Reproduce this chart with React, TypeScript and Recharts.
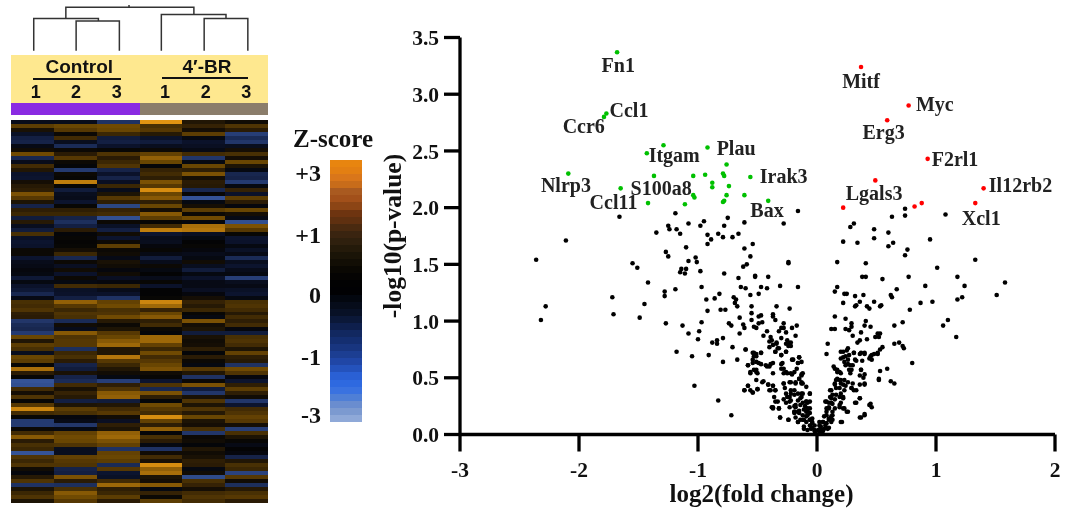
import React from "react";
import { BarChart, Bar, Cell, ScatterChart, Scatter, XAxis, YAxis, Label } from "recharts";

const SERIF = "'Liberation Serif', serif";
const SANS = "'Liberation Sans', sans-serif";

// ---------- heatmap ----------
const sampleNames = ["Control 1", "Control 2", "Control 3", "4'-BR 1", "4'-BR 2", "4'-BR 3"];
const control1 = [
  -0.5,1.7,0.5,-0.8,-1.3,-1.4,-0.4,0.3,2.0,-1.5,-0.5,1.3,0.7,-0.9,-1.0,0.4,0.8,1.0,2.1,1.6,0.6,-1.4,1.0,1.2,
  -1.2,0.8,-0.6,-1.2,1.4,-0.8,-1.0,-0.9,0.2,0.2,-1.0,-0.5,-0.4,-0.2,-0.3,-1.1,-0.3,-0.9,-1.1,-1.5,-0.4,1.4,1.3,1.5,
  1.0,0.9,-1.9,-1.6,-1.5,-2.0,1.9,0.7,1.7,1.4,-0.6,1.9,1.7,0.1,2.5,0.9,0.1,-2.6,-2.5,1.3,0.4,1.5,0.1,1.6,
  2.8,1.3,0.1,-2.0,-2.0,0.2,1.3,2.2,0.9,1.4,1.2,-2.6,1.5,1.2,1.5,0.3,-0.2,0.8,1.5,-1.8,0.6,1.2,1.5,0.6,
];
const control2 = [
  -0.5,1.9,1.6,0.2,1.3,-0.6,-1.6,0.2,0.9,1.6,0.2,-0.1,-2.0,0.2,0.1,2.7,0.1,-1.2,-0.6,-0.5,-1.0,0.1,1.0,1.2,
  -1.4,-1.7,-1.3,0.9,-0.1,0.1,0.05,0.1,0.4,1.2,-1.5,0.2,-0.7,0.3,-0.9,0.2,-0.3,1.3,-0.8,-0.9,-1.3,2.3,1.6,1.2,
  1.5,1.4,-1.6,0.3,-0.5,2.2,1.5,1.6,1.6,-1.7,1.2,1.4,0.9,-1.4,-1.2,0.5,-1.4,-1.6,1.3,0.5,1.1,0.8,-1.3,0.6,
  1.7,1.4,-0.2,-0.4,-1.9,-0.3,1.8,2.0,1.9,1.5,-0.6,-0.6,1.8,1.6,1.5,-1.4,-1.3,2.1,0.9,-1.7,1.4,2.2,2.0,1.6,
];
const control3 = [
  -1.8,2.0,1.9,1.2,-1.2,-1.3,-0.9,0.1,1.5,0.9,1.2,1.5,-1.4,-0.9,-1.4,-0.7,1.2,-0.5,0.6,1.6,1.0,-2.3,1.1,1.3,
  -2.5,0.2,-0.8,-1.3,0.3,-1.0,0.2,1.7,0.2,0.3,-0.4,0.5,0.3,-0.2,0.3,-0.7,-0.2,1.2,-0.5,-0.9,-1.8,1.8,2.0,1.4,
  1.5,2.0,0.8,0.2,0.6,1.6,1.9,2.2,2.4,0.7,0.7,2.6,1.6,1.2,0.7,0.3,-0.3,-2.1,1.0,1.5,2.2,2.3,-1.2,0.7,
  1.3,1.6,0.3,-0.7,1.0,0.6,2.3,2.4,2.1,1.8,-1.8,1.8,1.9,1.7,-1.6,1.6,-1.0,-0.8,1.3,2.4,1.0,1.2,1.7,0.9,
];
const treated1 = [
  3.0,1.4,1.6,0.8,-0.9,-1.2,-0.6,0.2,1.8,2.3,1.9,-0.1,1.1,1.3,1.0,2.1,1.6,2.9,1.9,2.2,1.0,1.9,0.4,2.2,
  1.7,0.1,1.3,2.7,-1.0,-0.5,-0.6,-0.2,0.1,-0.4,-1.2,-0.5,0.2,-0.3,0.0,-0.5,0.1,-0.9,0.0,0.0,0.1,2.8,2.4,1.1,
  1.9,2.2,1.0,1.3,0.2,-0.1,2.4,2.4,1.8,1.2,2.0,1.3,1.6,1.9,2.1,0.3,0.1,-1.0,1.5,-1.5,2.1,1.0,-0.1,2.0,
  1.6,1.3,2.9,1.8,1.0,2.3,-0.1,1.4,0.9,-0.3,-1.8,0.3,1.3,0.5,2.9,2.3,2.5,0.6,0.4,2.2,-0.3,1.1,0.2,1.7,
];
const treated2 = [
  0.7,1.1,0.4,1.7,-0.3,-0.9,-0.7,-0.4,1.3,-1.9,-0.3,1.9,1.0,2.1,0.4,0.9,0.8,-1.5,0.1,-2.6,-0.3,0.4,1.7,0.2,
  2.0,-0.2,2.5,2.6,-0.7,-0.3,0.0,0.1,-0.2,-0.5,-0.3,0.3,-0.6,-1.2,-0.3,-0.9,-0.4,-0.4,-0.7,-0.2,0.4,1.1,0.8,1.2,
  0.1,-0.3,2.1,0.4,0.6,-1.2,0.5,0.3,0.4,1.0,-0.1,0.9,0.2,-0.3,1.6,0.7,-1.8,0.2,2.1,-1.2,-1.9,0.5,1.5,0.6,
  1.5,0.8,1.9,0.6,0.4,1.4,-1.9,0.2,0.3,-0.1,0.7,0.3,0.5,1.0,0.9,-0.3,0.3,-2.4,1.4,1.1,0.4,1.3,1.5,1.3,
];
const treated3 = [
  0.3,1.5,0.9,-2.1,-1.6,-1.9,-0.6,0.4,1.4,0.4,1.9,0.6,-0.3,-1.5,-1.4,-2.0,-0.3,1.1,-0.9,1.7,0.9,-0.2,1.9,0.4,
  -0.4,-2.5,2.1,1.6,0.1,-1.0,-0.9,-0.3,-0.8,-0.4,-1.6,-0.6,-1.0,-0.5,-0.3,-2.1,-0.6,-0.4,-0.8,-1.0,-0.3,1.4,1.5,1.3,
  0.8,1.3,1.0,1.3,-0.2,-1.2,1.4,1.5,1.3,0.6,1.8,1.0,0.8,-1.8,2.0,1.5,-0.2,-1.0,1.0,1.7,1.0,0.3,-1.9,-1.0,
  1.3,1.5,1.8,1.6,0.4,-2.1,1.4,0.6,0.1,-0.4,0.0,-0.2,-1.4,0.7,1.4,1.2,-2.2,1.6,0.3,-1.7,0.8,1.4,1.6,0.9,
];
const heatColumns = [control1, control2, control3, treated1, treated2, treated3];

const heatStops: [number, number[]][] = [
  [-3, [64, 100, 175]], [-2, [36, 58, 112]], [-1, [12, 20, 46]], [0, [4, 4, 5]],
  [1, [46, 30, 5]], [2, [112, 74, 2]], [3, [225, 148, 18]],
];
const heatColor = (z: number) => {
  for (let i = 0; i < heatStops.length - 1; i++) {
    const [a, ca] = heatStops[i];
    const [b, cb] = heatStops[i + 1];
    if (z <= b) {
      const t = Math.max(0, (z - a) / (b - a));
      return `rgb(${ca.map((c, k) => Math.round(c + (cb[k] - c) * t)).join(",")})`;
    }
  }
  return "rgb(225,148,18)";
};
const rowCount = control1.length;
const rowKeys = control1.map((_, i) => `r${i}`);
const heatData = sampleNames.map((name) => {
  const row: Record<string, number | string> = { name };
  rowKeys.forEach((k) => (row[k] = 1));
  return row;
});

// ---------- sample groups ----------
const groupColors = ["#8A2BE2", "#8A2BE2", "#8A2BE2", "#8B7D6B", "#8B7D6B", "#8B7D6B"];
const groupData = sampleNames.map((name) => ({ name, v: 1 }));
const groupLabels = [
  { text: "Control", center: 79.3, lineFrom: 33.3, lineWidth: 87.4, lineTop: 78 },
  { text: "4\u2032-BR", center: 207, lineFrom: 161.7, lineWidth: 86.6, lineTop: 76.7 },
];
const replicateLabels = [
  { text: "1", x: 35.7 }, { text: "2", x: 76 }, { text: "3", x: 116.7 },
  { text: "1", x: 165 }, { text: "2", x: 205.7 }, { text: "3", x: 246.3 },
];

// ---------- dendrogram (x in sample columns, y in merge height) ----------
const mergeA = [{ x: 1.52, y: 0 }, { x: 1.52, y: 0.68 }, { x: 2.53, y: 0.68 }, { x: 2.53, y: 0 }];
const mergeB = [{ x: 0.53, y: 0 }, { x: 0.53, y: 0.74 }, { x: 2.04, y: 0.74 }, { x: 2.04, y: 0.68 }];
const mergeC = [{ x: 4.51, y: 0 }, { x: 4.51, y: 0.74 }, { x: 5.53, y: 0.74 }, { x: 5.53, y: 0 }];
const mergeD = [{ x: 3.51, y: 0 }, { x: 3.51, y: 0.83 }, { x: 5.02, y: 0.83 }, { x: 5.02, y: 0.74 }];
const mergeRoot = [{ x: 1.28, y: 0.74 }, { x: 1.28, y: 1 }, { x: 4.27, y: 1 }, { x: 4.27, y: 0.83 }];
const rootStem = [{ x: 2.755, y: 1 }, { x: 2.755, y: 1.05 }];
const dendroMerges = [mergeA, mergeB, mergeC, mergeD, mergeRoot, rootStem];

// ---------- colour scale ----------
const colorbarColors = [
  "#E8850F","#E37F12","#D9761A","#C86C1A","#A95A20","#A2501A","#8C4515","#6E3410","#5F3010","#4A2A10",
  "#3A2410","#2F200E","#241A0A","#1A1407","#120E05","#0A0803","#050403","#020202","#010103","#03070F",
  "#060C1A","#081126","#0B1838","#0E1F4C","#122860","#142E70","#18357F","#1C3E92","#2046A6","#2452BC",
  "#2A60D4","#2E69E0","#3A72E0","#4F7FD6","#6A8DCF","#7C9AD0","#8FA9D8",
];
const colorbarKeys = colorbarColors.map((_, i) => `c${i}`);
const colorbarRow: Record<string, number | string> = { name: "z" };
colorbarKeys.forEach((k) => (colorbarRow[k] = 1));
const colorbarData = [colorbarRow];
const colorbarLabels = [
  { text: "+3", y: 173 }, { text: "+1", y: 235 }, { text: "0", y: 295 }, { text: "-1", y: 357 }, { text: "-3", y: 415 },
];

// ---------- volcano ----------
const xTicks = [-3, -2, -1, 0, 1, 2];
const yTicks = [0, 0.5, 1, 1.5, 2, 2.5, 3, 3.5];

const downRegulated: [number, number][] = [
  [-1.68,3.37],[-1.77,2.83],[-1.79,2.8],[-1.29,2.55],[-1.43,2.48],[-0.92,2.53],[-0.76,2.38],[-2.09,2.3],[-1.37,2.28],
  [-1.04,2.28],[-0.94,2.29],[-0.79,2.3],[-0.78,2.28],[-0.56,2.27],[-0.88,2.22],[-0.88,2.18],[-0.74,2.19],[-1.65,2.17],
  [-1.04,2.11],[-1.03,2.09],[-0.76,2.11],[-0.61,2.11],[-1.42,2.04],[-1.11,2.03],[-0.79,2.05],[-0.78,2.06],[-0.41,2.06],
];
const upRegulated: [number, number][] = [
  [0.37,3.24],[0.77,2.9],[0.59,2.77],[0.93,2.43],[0.49,2.24],[1.4,2.17],[1.33,2.04],[0.88,2.04],[0.82,2.01],[0.22,2.0],
];
const unchangedLeft: [number, number][] = [
  [-2.11,1.71],[-2.36,1.54],[-2.28,1.13],[-2.32,1.01],[-1.55,1.51],[-1.51,1.47],[-1.42,1.34],[-1.72,1.21],[-1.71,1.06],
  [-1.45,1.15],[-1.49,1.03],[-1.28,1.26],[-1.28,1.22],[-1.19,1.28],[-1.27,0.98],[-1.35,1.78],[-1.25,1.84],[-1.24,1.81],
  [-1.18,1.81],[-1.15,1.77],[-1.08,1.86],[-0.98,1.84],[-0.95,1.88],[-0.78,1.84],[-0.61,1.87],[-0.28,1.86],[-0.92,1.76],
  [-0.89,1.72],[-0.92,1.68],[-0.83,1.77],[-0.79,1.74],[-0.71,1.74],[-0.66,1.77],[-1.27,1.61],[-1.25,1.57],[-1.1,1.65],
  [-1.08,1.53],[-1.02,1.56],[-1.01,1.52],[-1.14,1.46],[-1.1,1.46],[-1.15,1.43],[-1.11,1.42],[-0.98,1.44],[-0.61,1.64],
  [-0.54,1.68],[-0.56,1.57],[-0.62,1.48],[-0.59,1.5],[-0.24,1.52],[-0.24,1.51],[-0.78,1.42],[-0.66,1.38],[-0.52,1.4],
  [-0.52,1.39],[-0.41,1.39],[-0.97,1.3],[-0.64,1.3],[-0.6,1.29],[-0.47,1.3],[-0.42,1.29],[-0.31,1.31],[-0.16,1.3],
  [-0.82,1.24],[-0.86,1.2],[-0.93,1.19],[-0.56,1.23],[-0.49,1.24],[-0.7,1.21],[-0.68,1.19],[-0.69,1.16],[-0.67,1.13],
  [-0.92,1.09],[-0.81,1.1],[-0.77,1.1],[-0.55,1.13],[-0.55,1.07],[-0.55,1.01],[-0.34,1.13],[-0.23,1.11],[-0.65,1.03],
  [-0.49,1.04],[-0.47,1.05],[-0.49,0.98],[-0.46,0.99],[-0.37,1.06],[-0.37,1.04],[-0.35,1.01],[-0.74,0.98],[-0.72,0.96],
  [-0.62,0.97],[-0.61,0.94],[-0.65,0.89],[-0.53,0.95],[-0.51,0.94],[-0.97,0.99],[-0.99,0.91],[-1.0,0.84],[-1.13,0.96],
  [-1.08,0.89],[-0.88,0.81],[-0.84,0.83],[-0.84,0.8],[-0.79,0.85],[-1.18,0.73],[-1.05,0.69],[-0.91,0.7],[-0.79,0.64],
  [-0.67,0.66],[-0.71,0.77],[-0.6,0.75],[-1.03,0.43],[-0.83,0.3],[-0.72,0.17],[-1.66,1.92],[-1.19,1.95],[-0.16,1.97],[-0.75,1.91],
];
const unchangedLeftDense: [number, number][] = [
  [-0.42,0.91],[-0.45,0.87],[-0.39,0.86],[-0.38,0.83],[-0.3,0.94],[-0.32,0.91],[-0.28,0.94],[-0.28,0.98],[-0.26,0.9],
  [-0.21,0.94],[-0.17,0.96],[-0.18,0.87],[-0.3,0.85],[-0.25,0.83],[-0.22,0.81],[-0.26,0.8],[-0.24,0.78],[-0.34,0.8],
  [-0.32,0.76],[-0.35,0.73],[-0.37,0.79],[-0.4,0.77],[-0.3,0.7],[-0.26,0.73],[-0.21,0.66],[-0.15,0.68],[-0.13,0.64],
  [-0.16,0.63],[-0.17,0.58],[-0.13,0.53],[-0.15,0.49],[-0.13,0.45],[-0.18,0.45],[-0.21,0.53],[-0.25,0.54],[-0.28,0.54],
  [-0.29,0.63],[-0.3,0.58],[-0.37,0.63],[-0.4,0.6],[-0.42,0.6],[-0.47,0.62],[-0.54,0.72],[-0.51,0.71],[-0.47,0.72],
  [-0.53,0.69],[-0.51,0.64],[-0.54,0.63],[-0.58,0.61],[-0.53,0.57],[-0.56,0.54],[-0.5,0.54],[-0.51,0.48],[-0.45,0.47],
  [-0.58,0.43],[-0.61,0.39],[-0.54,0.37],[-0.5,0.4],[-0.41,0.44],[-0.37,0.43],[-0.4,0.39],[-0.35,0.39],[-0.36,0.33],
  [-0.33,0.29],[-0.38,0.24],[-0.37,0.23],[-0.32,0.23],[-0.31,0.15],[-0.24,0.13],[-0.28,0.45],[-0.27,0.41],[-0.22,0.46],
  [-0.19,0.39],[-0.22,0.36],[-0.25,0.33],[-0.28,0.31],[-0.23,0.29],[-0.16,0.36],[-0.13,0.36],[-0.06,0.36],[-0.16,0.3],
  [-0.12,0.28],[-0.23,0.24],[-0.18,0.26],[-0.08,0.28],[-0.1,0.25],[-0.06,0.23],[-0.19,0.2],[-0.15,0.19],[-0.09,0.2],
  [-0.06,0.19],[-0.16,0.11],[-0.11,0.13],[-0.06,0.13],[-0.04,0.11],[-0.11,0.05],[-0.05,0.05],[-0.02,0.03],[-0.01,0.01],
  [-0.13,0.52],[-0.12,0.45],[-0.09,0.42],[-0.09,0.29],[-0.08,0.21],[-0.09,0.16],[-0.05,0.13],[-0.02,0.08],[-0.18,0.24],
  [-0.13,0.33],[-0.15,0.21],[-0.19,0.19],[-0.12,0.13],
];
const unchangedLeftFill: [number, number][] = [
  [-0.6,0.75],[-0.53,0.72],[-0.51,0.69],[-0.54,0.66],[-0.47,0.72],[-0.58,0.61],[-0.49,0.63],[-0.43,0.61],[-0.39,0.62],
  [-0.4,0.82],[-0.34,0.81],[-0.33,0.76],[-0.35,0.73],[-0.3,0.7],[-0.26,0.73],[-0.23,0.8],[-0.22,0.78],[-0.2,0.66],
  [-0.15,0.68],[-0.16,0.63],[-0.3,0.62],[-0.28,0.58],[-0.51,0.55],[-0.56,0.55],[-0.51,0.57],[-0.37,0.54],[-0.26,0.55],
  [-0.22,0.54],[-0.19,0.55],[-0.12,0.54],[-0.15,0.49],[-0.18,0.46],[-0.13,0.46],[-0.58,0.43],[-0.61,0.39],[-0.56,0.39],
  [-0.54,0.37],[-0.5,0.4],[-0.46,0.46],[-0.41,0.44],[-0.37,0.43],[-0.35,0.39],[-0.39,0.39],[-0.28,0.45],[-0.23,0.46],
  [-0.22,0.39],[-0.26,0.36],[-0.23,0.33],[-0.19,0.35],[-0.12,0.36],[-0.06,0.36],[-0.14,0.32],[-0.09,0.29],[-0.06,0.29],
  [-0.14,0.26],[-0.11,0.22],[-0.08,0.23],[-0.04,0.14],[-0.14,0.13],[-0.09,0.11],[-0.16,0.11],[-0.19,0.2],[-0.16,0.2],
  [-0.18,0.15],[-0.31,0.15],[-0.24,0.13],[-0.37,0.24],[-0.32,0.23],[-0.35,0.29],[-0.26,0.28],[-0.19,0.25],[-0.22,0.3],
  [-0.11,0.07],[-0.06,0.08],[-0.04,0.06],[-0.02,0.04],[-0.08,0.04],[-0.06,0.13],[-0.04,0.1],[-0.12,0.17],[-0.08,0.17],
];
const unchangedRight: [number, number][] = [
  [0.74,1.99],[0.74,1.93],[0.63,1.92],[1.08,1.94],[0.31,1.86],[0.28,1.83],[0.48,1.81],[0.6,1.78],[0.48,1.73],[0.95,1.72],
  [0.22,1.7],[0.34,1.69],[0.64,1.69],[0.6,1.66],[0.76,1.63],[0.74,1.58],[1.33,1.54],[0.17,1.52],[0.41,1.51],[1.01,1.47],
  [0.77,1.39],[0.38,1.39],[0.41,1.39],[0.55,1.37],[1.18,1.39],[1.58,1.34],[1.24,1.31],[0.91,1.31],[0.17,1.3],[0.15,1.26],
  [0.67,1.28],[0.23,1.24],[0.25,1.24],[0.32,1.22],[0.39,1.23],[0.62,1.23],[0.63,1.21],[1.51,1.23],[1.22,1.21],[1.18,1.19],
  [0.22,1.16],[0.33,1.14],[0.36,1.17],[0.32,1.13],[0.48,1.17],[0.54,1.14],[0.53,1.13],[0.42,1.13],[0.44,1.11],[0.87,1.16],
  [0.97,1.17],[0.78,1.1],[0.15,1.04],[0.24,1.02],[1.1,1.01],[0.72,0.99],[0.65,0.96],[1.06,0.96],[1.17,0.86],[0.41,1.0],
  [0.4,0.96],[0.45,0.95],[0.29,0.98],[0.29,0.95],[0.12,0.93],[0.15,0.93],[0.24,0.93],[0.27,0.92],[0.37,0.9],[0.3,0.87],
  [0.36,0.83],[0.42,0.84],[0.51,0.89],[0.53,0.89],[0.49,0.86],[0.52,0.86],[0.34,0.81],[0.09,0.8],[0.65,0.8],[0.69,0.81],
  [0.72,0.78],[0.73,0.76],[0.55,0.77],[0.53,0.75],[0.08,0.71],[0.2,0.73],[0.26,0.76],[0.25,0.74],[0.31,0.72],[0.36,0.71],
  [0.4,0.71],[0.51,0.71],[0.48,0.71],[0.46,0.7],[0.44,0.67],[0.46,0.66],[0.8,0.63],[0.22,0.68],[0.23,0.64],[0.26,0.66],
  [0.32,0.66],[0.38,0.65],[0.14,0.6],[0.19,0.55],[0.17,0.57],[0.24,0.61],[0.28,0.61],[0.29,0.57],[0.28,0.54],[0.37,0.57],
  [0.36,0.52],[0.39,0.5],[0.4,0.44],[0.53,0.56],[0.59,0.58],[0.52,0.48],[0.62,0.47],[0.65,0.45],[0.17,0.49],[0.15,0.45],
  [0.2,0.48],[0.22,0.44],[0.16,0.41],[0.19,0.41],[0.24,0.43],[0.3,0.45],[0.29,0.41],[0.31,0.39],[0.11,0.39],[0.13,0.35],
  [0.1,0.28],[0.07,0.29],[0.12,0.32],[0.13,0.27],[0.1,0.24],[0.08,0.23],[0.22,0.33],[0.2,0.28],[0.22,0.23],[0.26,0.2],
  [0.19,0.24],[0.36,0.32],[0.32,0.28],[0.45,0.27],[0.46,0.24],[0.4,0.17],[0.37,0.15],[0.21,0.11],[0.13,0.2],[0.12,0.16],
  [0.08,0.17],[0.1,0.13],[0.13,0.13],[0.05,0.11],[0.07,0.08],[0.03,0.07],[0.09,0.05],[0.03,0.04],[0.05,0.03],[0.02,0.11],
  [0.02,0.08],[0.01,0.04],
];
const unchangedRightFill: [number, number][] = [
  [0.22,0.73],[0.2,0.67],[0.24,0.69],[0.27,0.7],[0.26,0.62],[0.3,0.61],[0.27,0.57],[0.31,0.72],[0.37,0.72],[0.4,0.72],
  [0.45,0.69],[0.51,0.72],[0.33,0.65],[0.37,0.57],[0.4,0.53],[0.15,0.58],[0.17,0.55],[0.2,0.54],[0.16,0.48],[0.19,0.48],
  [0.23,0.48],[0.26,0.46],[0.15,0.44],[0.2,0.45],[0.29,0.41],[0.33,0.39],[0.12,0.39],[0.16,0.35],[0.2,0.36],[0.23,0.39],
  [0.36,0.44],[0.4,0.45],[0.36,0.32],[0.33,0.28],[0.11,0.33],[0.08,0.29],[0.12,0.28],[0.15,0.31],[0.19,0.33],[0.22,0.32],
  [0.1,0.23],[0.08,0.2],[0.15,0.23],[0.19,0.26],[0.23,0.23],[0.25,0.2],[0.06,0.16],[0.1,0.14],[0.13,0.17],[0.05,0.11],
  [0.08,0.1],[0.12,0.11],[0.03,0.07],[0.06,0.05],[0.1,0.06],[0.02,0.03],[0.05,0.04],[0.03,0.01],[0.2,0.11],[0.36,0.15],
  [0.4,0.18],[0.44,0.26],[0.52,0.49],
];
const toPoints = (a: [number, number][]) => a.map(([x, y]) => ({ x, y }));
const geneLabels = [
  { x: -1.67, y: 3.26, name: "Fn1" }, { x: -1.58, y: 2.86, name: "Ccl1" }, { x: -1.96, y: 2.72, name: "Ccr6" },
  { x: -1.2, y: 2.46, name: "Itgam" }, { x: -0.68, y: 2.53, name: "Plau" }, { x: -0.28, y: 2.28, name: "Irak3" },
  { x: -2.11, y: 2.2, name: "Nlrp3" }, { x: -1.31, y: 2.17, name: "S100a8" }, { x: -1.71, y: 2.05, name: "Ccl11" },
  { x: -0.42, y: 1.98, name: "Bax" }, { x: 0.37, y: 3.12, name: "Mitf" }, { x: 0.99, y: 2.91, name: "Myc" },
  { x: 0.56, y: 2.67, name: "Erg3" }, { x: 1.16, y: 2.43, name: "F2rl1" }, { x: 0.48, y: 2.13, name: "Lgals3" },
  { x: 1.71, y: 2.2, name: "Il12rb2" }, { x: 1.38, y: 1.91, name: "Xcl1" },
];

const dot = (fill: string) => (p: any) => <circle cx={p.cx} cy={p.cy} r={2.3} fill={fill} />;
const noDot = () => <g />;
const geneText = (p: any) => (
  <text x={p.cx} y={p.cy} textAnchor="middle" dominantBaseline="central" fontFamily={SERIF} fontWeight="bold" fontSize={20} fill="#222">
    {p.payload.name}
  </text>
);
const abs = (left: number, top: number): React.CSSProperties => ({ position: "absolute", left, top });

export default function App() {
  return (
    <div style={{ position: "absolute", left: 0, top: 0, width: 1068, height: 511, background: "#fff", overflow: "hidden", filter: "blur(0.35px)" }}>
      {/* dendrogram */}
      <div style={abs(11, 5.3)}>
        <ScatterChart width={257} height={45.7} margin={{ top: 0, right: 0, bottom: 0, left: 0 }}>
          <XAxis type="number" dataKey="x" domain={[0, 6]} hide />
          <YAxis type="number" dataKey="y" domain={[0, 1.05]} hide />
          {dendroMerges.map((m, i) => (
            <Scatter key={i} data={m} isAnimationActive={false} line={{ stroke: "#333", strokeWidth: 1.5 }} shape={noDot} />
          ))}
        </ScatterChart>
      </div>

      {/* header band */}
      <div style={{ ...abs(11, 55), width: 257, height: 47.5, background: "#FEE88F" }} />
      {groupLabels.map((g) => (
        <React.Fragment key={g.text}>
          <div style={{ ...abs(g.center - 50, 56), width: 100, textAlign: "center", fontFamily: SANS, fontWeight: "bold", fontSize: 19, lineHeight: "22px", color: "#111" }}>{g.text}</div>
          <div style={{ ...abs(g.lineFrom, g.lineTop), width: g.lineWidth, height: 2, background: "#111" }} />
        </React.Fragment>
      ))}
      {replicateLabels.map((r, i) => (
        <div key={i} style={{ ...abs(r.x - 10, 82), width: 20, textAlign: "center", fontFamily: SANS, fontWeight: "bold", fontSize: 18, lineHeight: "20px", color: "#111" }}>{r.text}</div>
      ))}

      {/* group colour strip */}
      <div style={abs(11, 103)}>
        <BarChart width={257} height={12} data={groupData} barCategoryGap={0} margin={{ top: 0, right: 0, bottom: 0, left: 0 }}>
          <XAxis dataKey="name" hide />
          <YAxis domain={[0, 1]} hide />
          <Bar dataKey="v" isAnimationActive={false} shapeRendering="crispEdges">
            {groupColors.map((c, i) => <Cell key={i} fill={c} />)}
          </Bar>
        </BarChart>
      </div>

      {/* heatmap */}
      <div style={{ ...abs(11, 120), filter: "blur(0.4px)" }}>
        <BarChart width={257} height={383} data={heatData} barCategoryGap={0} margin={{ top: 0, right: 0, bottom: 0, left: 0 }}>
          <XAxis dataKey="name" hide />
          <YAxis type="number" domain={[0, rowCount]} reversed hide />
          {rowKeys.map((k, r) => (
            <Bar key={k} dataKey={k} stackId="h" isAnimationActive={false} shapeRendering="crispEdges">
              {heatColumns.map((col, c) => <Cell key={c} fill={heatColor(col[r])} />)}
            </Bar>
          ))}
        </BarChart>
      </div>

      {/* colour scale */}
      <div style={{ ...abs(285, 126), width: 96, textAlign: "center", fontFamily: SERIF, fontWeight: "bold", fontSize: 25, lineHeight: "26px", color: "#111" }}>Z-score</div>
      <div style={abs(330, 160)}>
        <BarChart width={32} height={262} data={colorbarData} barCategoryGap={0} margin={{ top: 0, right: 0, bottom: 0, left: 0 }}>
          <XAxis dataKey="name" hide />
          <YAxis type="number" domain={[0, colorbarColors.length]} reversed hide />
          {colorbarKeys.map((k, i) => (
            <Bar key={k} dataKey={k} stackId="c" fill={colorbarColors[i]} isAnimationActive={false} shapeRendering="crispEdges" />
          ))}
        </BarChart>
      </div>
      {colorbarLabels.map((l) => (
        <div key={l.text} style={{ ...abs(281, l.y - 14), width: 40, textAlign: "right", fontFamily: SERIF, fontWeight: "bold", fontSize: 24, lineHeight: "28px", color: "#111" }}>{l.text}</div>
      ))}

      {/* volcano plot */}
      <div style={abs(0, 0)}>
        <ScatterChart width={1068} height={511} margin={{ top: 37.5, right: 13, bottom: 36.5, left: 370 }}>
          <XAxis
            type="number" dataKey="x" domain={[-3, 2]} ticks={xTicks} height={40} interval={0}
            axisLine={{ stroke: "#000", strokeWidth: 3.3 }} tickLine={{ stroke: "#000", strokeWidth: 3.3 }} tickSize={17} tickMargin={10}
            tick={{ fontFamily: SERIF, fontWeight: "bold", fontSize: 21.5, fill: "#111" }}
          >
            <Label value="log2(fold change)" position="bottom" offset={10} dx={4} style={{ fontFamily: SERIF, fontWeight: "bold", fontSize: 25, fill: "#111" }} />
          </XAxis>
          <YAxis
            type="number" dataKey="y" domain={[0, 3.5]} ticks={yTicks} width={90} interval={0}
            tickFormatter={(v: number) => v.toFixed(1)}
            axisLine={{ stroke: "#000", strokeWidth: 3.3 }} tickLine={{ stroke: "#000", strokeWidth: 3.3 }} tickSize={16} tickMargin={5}
            tick={{ fontFamily: SERIF, fontWeight: "bold", fontSize: 21.5, fill: "#111" }}
          >
            <Label value="-log10(p-value)" position="insideLeft" angle={-90} offset={22} textAnchor="middle" style={{ fontFamily: SERIF, fontWeight: "bold", fontSize: 25.5, fill: "#111", textAnchor: "middle" }} />
          </YAxis>
          <Scatter data={toPoints(unchangedLeft)} isAnimationActive={false} shape={dot("#000")} />
          <Scatter data={toPoints(unchangedLeftDense)} isAnimationActive={false} shape={dot("#000")} />
          <Scatter data={toPoints(unchangedLeftFill)} isAnimationActive={false} shape={dot("#000")} />
          <Scatter data={toPoints(unchangedRight)} isAnimationActive={false} shape={dot("#000")} />
          <Scatter data={toPoints(unchangedRightFill)} isAnimationActive={false} shape={dot("#000")} />
          <Scatter data={toPoints(downRegulated)} isAnimationActive={false} shape={dot("#00C000")} />
          <Scatter data={toPoints(upRegulated)} isAnimationActive={false} shape={dot("#FF0000")} />
          <Scatter data={geneLabels} isAnimationActive={false} shape={geneText} />
        </ScatterChart>
      </div>
    </div>
  );
}
